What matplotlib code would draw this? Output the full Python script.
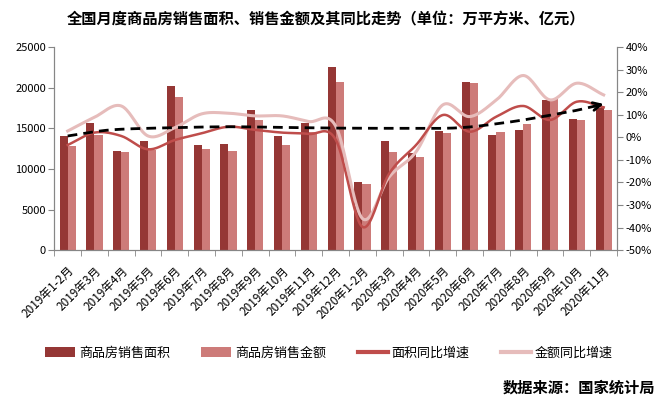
""" national monthly housing sales: area, amount and yoy growth """

import numpy
import matplotlib
matplotlib.use("Agg")
import matplotlib.pyplot
import matplotlib.transforms

matplotlib.pyplot.rcParams["font.family"] = ["Noto Sans CJK SC", "DejaVu Sans"]

MONTHS = ["2019年1-2月", "2019年3月", "2019年4月", "2019年5月", "2019年6月",
          "2019年7月", "2019年8月", "2019年9月", "2019年10月", "2019年11月",
          "2019年12月", "2020年1-2月", "2020年3月", "2020年4月", "2020年5月",
          "2020年6月", "2020年7月", "2020年8月", "2020年9月", "2020年10月",
          "2020年11月"]

# sales area (10k m2) and sales amount (100m yuan)
AREA = [14100, 15700, 12200, 13450, 20250, 12950, 13080, 17270, 14060, 15670,
        22570, 8390, 13450, 11970, 14680, 20720, 14190, 14800, 18500, 16160, 17520]
AMOUNT = [12800, 14190, 12090, 12300, 18870, 12460, 12210, 16040, 12950, 14600,
          20720, 8140, 12090, 11470, 14430, 20600, 14560, 15540, 18630, 16040, 17270]

# year on year growth in percent
AREA_YOY = [-3.4, 2.1, 0.6, -5.3, -1.2, 1.8, 4.7, 3.3, 2.1, 1.5,
            -1.0, -39.7, -16.0, -3.4, 9.9, 2.5, 9.2, 13.9, 7.7, 15.8, 13.3]
AMOUNT_YOY = [2.8, 8.9, 13.9, 0.6, 4.3, 10.4, 10.7, 9.5, 9.5, 7.0,
              5.0, -36.0, -17.5, -6.4, 14.4, 9.2, 16.6, 27.4, 16.6, 24.0, 18.8]

# hand drawn trend arrow (percent, right axis)
TREND_X = [0, 1, 2, 4, 6, 8, 10, 12, 14, 15, 16, 17, 18, 19, 20]
TREND_Y = [0.6, 2.5, 3.6, 4.3, 4.7, 4.4, 4.1, 4.0, 4.0, 4.6, 6.0, 7.7, 9.8, 12.0, 14.8]


def smooth(x, y, n=20):
    """ catmull-rom like smoothing, similar to excel smoothed lines """
    x = numpy.asarray(x, dtype=float)
    y = numpy.asarray(y, dtype=float)
    px = numpy.concatenate([[2 * x[0] - x[1]], x, [2 * x[-1] - x[-2]]])
    py = numpy.concatenate([[2 * y[0] - y[1]], y, [2 * y[-1] - y[-2]]])
    xs, ys = [], []
    t = numpy.linspace(0, 1, n, endpoint=False)
    for i in range(1, len(px) - 2):
        for p, out in ((px, xs), (py, ys)):
            p0, p1, p2, p3 = p[i - 1], p[i], p[i + 1], p[i + 2]
            out.extend(0.5 * ((2 * p1) + (-p0 + p2) * t
                              + (2 * p0 - 5 * p1 + 4 * p2 - p3) * t ** 2
                              + (-p0 + 3 * p1 - 3 * p2 + p3) * t ** 3))
    xs.append(x[-1])
    ys.append(y[-1])
    return numpy.array(xs), numpy.array(ys)


colors = ["#953735", "#cd7b79", "#bf4d4b", "#e6bcbb"]
gray = "#868686"

fig = matplotlib.pyplot.figure(figsize=(6.7, 3.99), dpi=100)
ax1 = fig.add_axes([0.081, 0.373, 0.840, 0.509])
ax2 = ax1.twinx()

indexes = numpy.arange(len(MONTHS))
width = 0.3

p1 = ax1.bar(indexes - width / 2, AREA, width, color=colors[0], zorder=2)
p2 = ax1.bar(indexes + width / 2, AMOUNT, width, color=colors[1], zorder=2)

sx, sy = smooth(indexes, AMOUNT_YOY)
l2, = ax2.plot(sx, sy, color=colors[3], linewidth=2.2, zorder=3)
sx, sy = smooth(indexes, AREA_YOY)
l1, = ax2.plot(sx, sy, color=colors[2], linewidth=1.8, zorder=4)

tx, ty = smooth(TREND_X, TREND_Y)
ax2.plot(tx[:-6], ty[:-6], color="black", linewidth=2, linestyle=(0, (3.5, 2.2)), zorder=5)
ax2.annotate("", xy=(tx[-1], ty[-1]), xytext=(tx[-8], ty[-8]),
             arrowprops=dict(arrowstyle="->", color="black", lw=2,
                             mutation_scale=14, shrinkA=0, shrinkB=0), zorder=5)

ax1.set_xlim(-0.5, len(MONTHS) - 0.5)
ax1.set_ylim(0, 25000)
ax1.set_yticks(range(0, 25001, 5000))
ax2.set_ylim(-50, 40)
ax2.set_yticks(range(-50, 41, 10))
ax2.set_yticklabels(["{}%".format(v) for v in range(-50, 41, 10)])

ax1.set_xticks(indexes)
ax1.set_xticklabels(MONTHS, rotation=45, ha="right", va="top",
                    rotation_mode="anchor", fontsize=8.5)
shift = matplotlib.transforms.ScaledTranslation(5 / 72, 0, fig.dpi_scale_trans)
for label in ax1.get_xticklabels():
    label.set_transform(label.get_transform() + shift)
ax1.set_xticks(numpy.arange(len(MONTHS) + 1) - 0.5, minor=True)
ax1.tick_params(axis="x", which="major", length=0, pad=10)
ax1.tick_params(axis="x", which="minor", length=4, color=gray)
ax1.tick_params(axis="y", length=4, color=gray, labelsize=8, pad=2)
ax2.tick_params(axis="y", length=4, color=gray, labelsize=8, pad=2)

for ax in (ax1, ax2):
    ax.spines["top"].set_visible(False)
    for s in ("left", "right", "bottom"):
        ax.spines[s].set_color(gray)

ax2.set_zorder(ax1.get_zorder() + 1)
ax2.patch.set_visible(False)

fig.text(0.487, 0.95, "全国月度商品房销售面积、销售金额及其同比走势（单位：万平方米、亿元）",
         ha="center", va="center", fontsize=11, fontweight="bold")

leg = fig.legend((p1, p2, l1, l2),
                 ("商品房销售面积", "商品房销售金额", "面积同比增速", "金额同比增速"),
                 loc="center", bbox_to_anchor=(0.491, 0.115), ncol=4, frameon=False,
                 fontsize=9.4, handlelength=2.3, handleheight=0.75, columnspacing=2.4,
                 handletextpad=0.3)
for h in leg.legend_handles[2:]:
    h.set_linewidth(3)

fig.text(0.978, 0.028, "数据来源：国家统计局", ha="right", va="center",
         fontsize=11, fontweight="bold")

matplotlib.pyplot.savefig("out.png", dpi=100)
matplotlib.pyplot.close()
